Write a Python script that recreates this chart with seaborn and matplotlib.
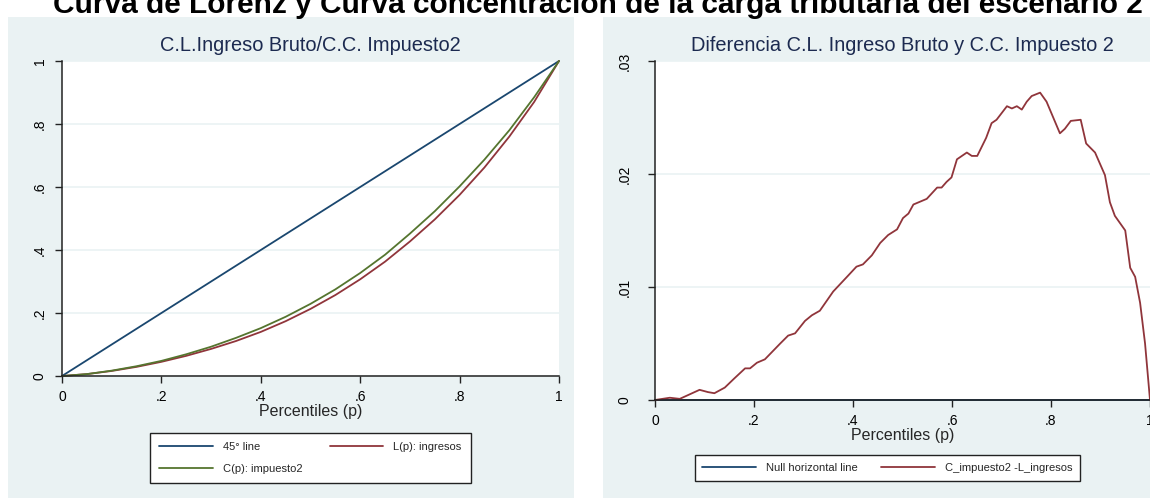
import matplotlib
matplotlib.use('Agg')
import matplotlib.pyplot as plt
from matplotlib.patches import Rectangle
import seaborn as sns
import pandas as pd

# ---------------- data ----------------
p_left = [0, .05, .10, .15, .20, .25, .30, .35, .40, .45, .50,
          .55, .60, .65, .70, .75, .80, .85, .90, .95, 1.0]
L_ingresos = [0, .006, .016, .029, .045, .064, .086, .111, .140, .174, .213,
              .257, .307, .363, .427, .497, .575, .662, .760, .870, 1.0]
C_impuesto2 = [0, .006, .017, .031, .048, .069, .093, .121, .152, .188, .229,
               .275, .327, .385, .452, .523, .602, .687, .780, .885, 1.0]
line45 = [0, 1]
p45 = [0, 1]

p_diff = [0, .03, .05, .09, .107, .12, .141, .16, .182, .192, .206, .222, .253,
          .269, .283, .303, .317, .333, .36, .39, .407, .42, .438, .455, .471,
          .489, .501, .512, .522, .549, .570, .579, .589, .599, .610, .630, .640,
          .651, .669, .680, .690, .711, .721, .731, .741, .751, .761, .778, .791,
          .818, .828, .840, .860, .871, .889, .909, .919, .929, .95, .96, .97,
          .98, .99, 1.0]
diff = [0, .0002, .0001, .0009, .0007, .0006, .0011, .0019, .0028, .0028, .0033,
        .0036, .0050, .0057, .0059, .0070, .0075, .0079, .0096, .0110, .0118,
        .0120, .0128, .0139, .0146, .0151, .0161, .0165, .0173, .0178, .0188,
        .0188, .0193, .0197, .0213, .0219, .0216, .0216, .0232, .0245, .0248,
        .0260, .0258, .0260, .0257, .0264, .0269, .0272, .0264, .0236, .0240,
        .0247, .0248, .0227, .0219, .0199, .0175, .0163, .0150, .0117, .0109,
        .0086, .0050, 0]
null_p = [0, 1]
null_y = [0, 0]

xticks = [0, .2, .4, .6, .8, 1]
xtick_labels = ['0', '.2', '.4', '.6', '.8', '1']
yticks_left = [0, .2, .4, .6, .8, 1]
ytick_labels_left = ['0', '.2', '.4', '.6', '.8', '1']
yticks_right = [0, .01, .02, .03]
ytick_labels_right = ['0', '.01', '.02', '.03']

main_title = "Curva de Lorenz y Curva concentración de la carga tributaria del escenario 2"
title_left = "C.L.Ingreso Bruto/C.C. Impuesto2"
title_right = "Diferencia C.L. Ingreso Bruto y C.C. Impuesto 2"
xlabel = "Percentiles (p)"

# ---------------- style ----------------
sns.set_theme(style='white')
plt.rcParams['font.family'] = ['Liberation Sans Narrow', 'Liberation Sans', 'DejaVu Sans']

NAVY = '#1a476f'
MAROON = '#90353b'
GREEN = '#55752f'
PANEL = '#eaf2f3'
TITLEC = '#1c2a50'

W, H = 1150, 501
fig = plt.figure(figsize=(11.5, 5.01), dpi=100)
fig.patch.set_facecolor('white')

def fx(px):
    return px / W

def fy(py):
    return 1 - py / H

# panel backgrounds
fig.patches.append(Rectangle((fx(8), fy(498)), fx(574 - 8), (498 - 17) / H,
                             transform=fig.transFigure, facecolor=PANEL,
                             edgecolor='none', zorder=-5))
fig.patches.append(Rectangle((fx(603), fy(498)), fx(1150 - 603), (498 - 17) / H,
                             transform=fig.transFigure, facecolor=PANEL,
                             edgecolor='none', zorder=-5))

axL = fig.add_axes([fx(62), fy(376), fx(559 - 62), (376 - 61) / H])
axR = fig.add_axes([fx(655), fy(400), fx(1150 - 655), (400 - 61) / H])
axL.set_zorder(2)
axR.set_zorder(2)

def style_axes(ax, yticks, ylabels, ypad):
    ax.set_facecolor('white')
    for s in ['top', 'right']:
        ax.spines[s].set_visible(False)
    for s in ['left', 'bottom']:
        ax.spines[s].set_color('#222222')
        ax.spines[s].set_linewidth(1.1)
    ax.set_xlim(0, 1)
    ax.set_xticks(xticks)
    ax.set_xticklabels(xtick_labels)
    ax.set_yticks(yticks)
    ax.set_yticklabels(ylabels, rotation=90, va='center')
    ax.set_ylim(yticks[0], yticks[-1])
    ax.tick_params(axis='both', which='major', direction='out', length=5,
                   width=1.0, color='#222222', labelsize=10, labelcolor='black',
                   left=True, bottom=True)
    ax.tick_params(axis='y', pad=ypad)
    ax.tick_params(axis='x', pad=5)
    ax.yaxis.grid(True, color=PANEL, linewidth=1.2)
    ax.xaxis.grid(False)
    ax.set_axisbelow(True)
    ax.set_xlabel(xlabel, fontsize=11.5, labelpad=0)
    ax.set_ylabel('')

# ---------------- left panel ----------------
dfL = pd.DataFrame({'p': p_left, 'L': L_ingresos, 'C': C_impuesto2})
sns.lineplot(x=p45, y=line45, ax=axL, color=NAVY, lw=1.3, label='45° line', clip_on=False)
sns.lineplot(data=dfL, x='p', y='L', ax=axL, color=MAROON, lw=1.3, label='L(p): ingresos', clip_on=False)
sns.lineplot(data=dfL, x='p', y='C', ax=axL, color=GREEN, lw=1.3, label='C(p): impuesto2', clip_on=False)
style_axes(axL, yticks_left, ytick_labels_left, 6)
axL.set_title(title_left, fontsize=14.4, color=TITLEC, pad=7)

h, l = axL.get_legend_handles_labels()
order = [0, 2, 1]
axL.get_legend().remove()
legL = fig.legend([h[i] for i in order], [l[i] for i in order], ncol=2,
                  loc='center', bbox_to_anchor=(fx((150 + 471) / 2), fy(458)),
                  fontsize=8.0, frameon=True, fancybox=False, handlelength=4.8,
                  handletextpad=0.95, columnspacing=2.4, borderpad=0.8,
                  labelspacing=1.15)
legL.get_frame().set_edgecolor('#222222')
legL.get_frame().set_linewidth(1.0)
legL.get_frame().set_facecolor('white')
legL.get_frame().set_alpha(1)

# ---------------- right panel ----------------
dfR = pd.DataFrame({'p': p_diff, 'd': diff})
sns.lineplot(x=null_p, y=null_y, ax=axR, color=NAVY, lw=1.3, label='Null horizontal line', clip_on=False)
sns.lineplot(data=dfR, x='p', y='d', ax=axR, color=MAROON, lw=1.3, label='C_impuesto2 -L_ingresos', clip_on=False)
style_axes(axR, yticks_right, ytick_labels_right, 12)
axR.set_title(title_right, fontsize=14.4, color=TITLEC, pad=7, x=0.5)

h, l = axR.get_legend_handles_labels()
axR.get_legend().remove()
legR = fig.legend(h, l, ncol=2, loc='center',
                  bbox_to_anchor=(fx((702 + 1073) / 2), fy((453 + 483) / 2)),
                  fontsize=8.0, frameon=True, fancybox=False, handlelength=4.8,
                  handletextpad=0.95, columnspacing=2.1, borderpad=0.7)
legR.get_frame().set_edgecolor('#222222')
legR.get_frame().set_linewidth(1.0)
legR.get_frame().set_facecolor('white')
legR.get_frame().set_alpha(1)

# ---------------- main title (cut off at top) ----------------
fig.text(fx(598), fy(13), main_title, ha='center', va='baseline',
         fontsize=21.5, fontweight='bold', family=['Liberation Sans', 'DejaVu Sans'],
         color='black')

fig.savefig('out.png', dpi=100)
